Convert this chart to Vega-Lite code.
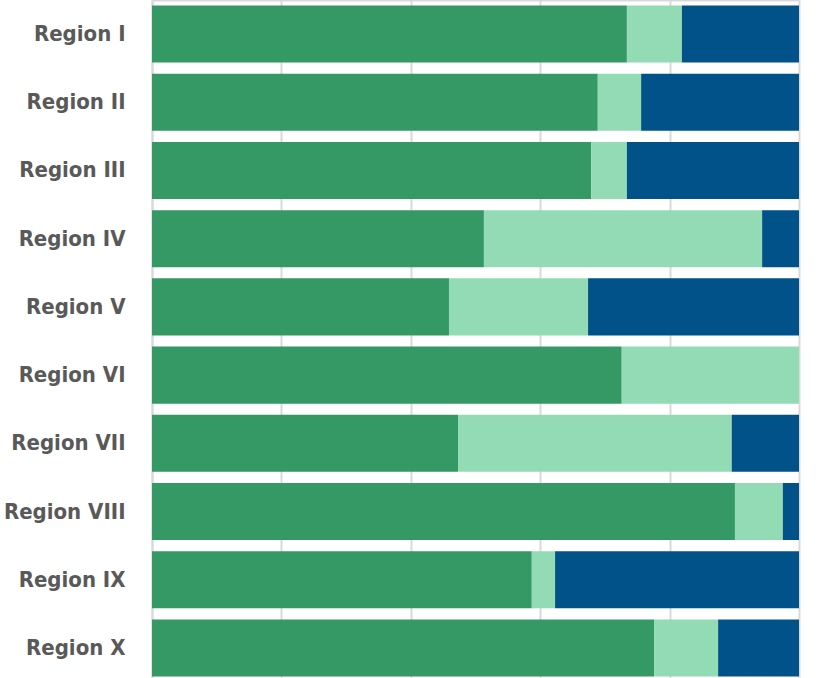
{
  "$schema": "https://vega.github.io/schema/vega-lite/v6.json",
  "autosize": {"type": "none"},
  "padding": {"left": 152, "top": 0, "right": 29, "bottom": 0},
  "width": 647,
  "height": 682,
  "background": "white",
  "config": {"view": {"stroke": null}},
  "data": {"values": [
    {"region": "Region I", "series": "A", "k": 1, "value": 73.4},
    {"region": "Region I", "series": "B", "k": 2, "value": 8.5},
    {"region": "Region I", "series": "C", "k": 3, "value": 18.1},
    {"region": "Region II", "series": "A", "k": 1, "value": 68.9},
    {"region": "Region II", "series": "B", "k": 2, "value": 6.7},
    {"region": "Region II", "series": "C", "k": 3, "value": 24.4},
    {"region": "Region III", "series": "A", "k": 1, "value": 67.9},
    {"region": "Region III", "series": "B", "k": 2, "value": 5.5},
    {"region": "Region III", "series": "C", "k": 3, "value": 26.6},
    {"region": "Region IV", "series": "A", "k": 1, "value": 51.3},
    {"region": "Region IV", "series": "B", "k": 2, "value": 43.0},
    {"region": "Region IV", "series": "C", "k": 3, "value": 5.7},
    {"region": "Region V", "series": "A", "k": 1, "value": 45.9},
    {"region": "Region V", "series": "B", "k": 2, "value": 21.5},
    {"region": "Region V", "series": "C", "k": 3, "value": 32.6},
    {"region": "Region VI", "series": "A", "k": 1, "value": 72.6},
    {"region": "Region VI", "series": "B", "k": 2, "value": 27.4},
    {"region": "Region VI", "series": "C", "k": 3, "value": 0},
    {"region": "Region VII", "series": "A", "k": 1, "value": 47.3},
    {"region": "Region VII", "series": "B", "k": 2, "value": 42.3},
    {"region": "Region VII", "series": "C", "k": 3, "value": 10.4},
    {"region": "Region VIII", "series": "A", "k": 1, "value": 90.1},
    {"region": "Region VIII", "series": "B", "k": 2, "value": 7.4},
    {"region": "Region VIII", "series": "C", "k": 3, "value": 2.5},
    {"region": "Region IX", "series": "A", "k": 1, "value": 58.7},
    {"region": "Region IX", "series": "B", "k": 2, "value": 3.6},
    {"region": "Region IX", "series": "C", "k": 3, "value": 37.7},
    {"region": "Region X", "series": "A", "k": 1, "value": 77.6},
    {"region": "Region X", "series": "B", "k": 2, "value": 9.9},
    {"region": "Region X", "series": "C", "k": 3, "value": 12.5}
  ]},
  "mark": {"type": "bar"},
  "encoding": {
    "y": {
      "field": "region", "type": "nominal", "sort": null,
      "scale": {"paddingInner": 0.164, "paddingOuter": 0.08},
      "axis": {
        "title": null, "domain": true, "domainColor": "#d9d9d9", "domainWidth": 2,
        "ticks": false, "labelPadding": 27,
        "labelFont": "DejaVu Sans Condensed", "labelFontWeight": "bold",
        "labelFontSize": 22, "labelColor": "#595959", "labelLimit": 200
      }
    },
    "x": {
      "field": "value", "type": "quantitative", "stack": "normalize",
      "scale": {"domain": [0, 1], "nice": false},
      "axis": {
        "orient": "top", "title": null, "labels": false, "ticks": false,
        "values": [0, 0.2, 0.4, 0.6, 0.8, 1],
        "domain": true, "domainColor": "#d9d9d9", "domainWidth": 2,
        "grid": true, "gridColor": "#d9d9d9", "gridWidth": 2
      }
    },
    "color": {
      "field": "series", "type": "nominal", "legend": null,
      "scale": {"domain": ["A", "B", "C"], "range": ["#359966", "#93dbb5", "#005288"]}
    },
    "order": {"field": "k", "type": "quantitative"}
  }
}
